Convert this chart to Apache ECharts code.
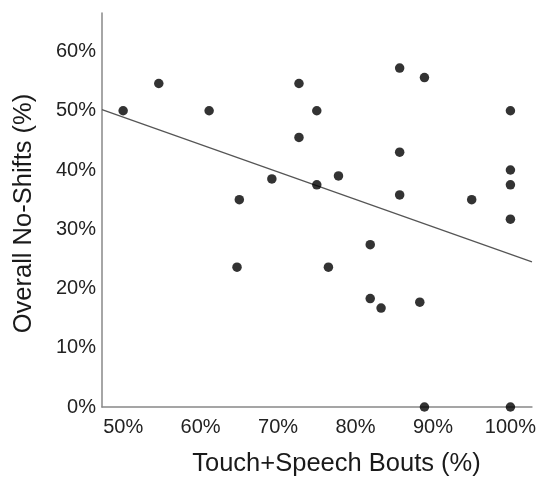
<!DOCTYPE html>
<html>
<head>
<meta charset="utf-8">
<script src="https://cdn.jsdelivr.net/npm/echarts@6/dist/echarts.min.js"></script>
<style>html,body{margin:0;padding:0;background:#fff;}#c{width:539px;height:482px;}</style>
</head>
<body>
<div id="c"></div>
<script>
// Touch+Speech Bouts (%) values
var touchSpeech = [50, 54.6, 61.1, 65.0, 64.7, 69.2, 72.7, 75.0, 72.7, 75.0, 77.8, 85.7, 88.9, 85.7, 85.7, 95.0, 100, 100, 100, 100, 81.9, 76.5, 81.9, 83.3, 88.3, 88.9, 100];
// Overall No-Shifts (%) values
var noShifts = [50, 54.6, 50, 35, 23.6, 38.5, 54.6, 50, 45.5, 37.5, 39, 57.2, 55.6, 43, 35.8, 35, 50, 40, 37.5, 31.7, 27.4, 23.6, 18.3, 16.7, 17.7, 0, 0];
// Fit line endpoints (x, y)
var fitX = [47.27, 102.78];
var fitY = [50.2, 24.5];
var xTicks = [50, 60, 70, 80, 90, 100];
var yTicks = [0, 10, 20, 30, 40, 50, 60];

var pts = touchSpeech.map(function (x, i) { return [x, noShifts[i]]; });
var line = fitX.map(function (x, i) { return [x, fitY[i]]; });

var font = 'Liberation Sans, Arial, sans-serif';
var chart = echarts.init(document.getElementById('c'), null, {renderer: 'canvas'});
chart.setOption({
  animation: false,
  backgroundColor: '#fff',
  grid: {left: 102, top: 13, right: 4, bottom: 70, containLabel: false},
  xAxis: {
    type: 'value', min: 47.27, max: 102.78, interval: 10,
    name: 'Touch+Speech Bouts (%)', nameLocation: 'middle', nameGap: 44,
    nameTextStyle: {fontFamily: font, fontSize: 25.5, color: '#1a1a1a', padding: [0, 0, 0, 39]},
    axisLine: {show: true, lineStyle: {color: '#888', width: 1.5}},
    axisTick: {show: false},
    splitLine: {show: false},
    axisLabel: {
      fontFamily: font, fontSize: 20, color: '#222', margin: 10,
      customValues: xTicks,
      formatter: function (v) { return Math.round(v) + '%'; }
    }
  },
  yAxis: {
    type: 'value', min: 0, max: 66.5, interval: 10,
    name: 'Overall No-Shifts (%)', nameLocation: 'middle', nameGap: 65,
    nameTextStyle: {fontFamily: font, fontSize: 25.5, color: '#1a1a1a', padding: [0, 7, 0, 0]},
    axisLine: {show: true, lineStyle: {color: '#888', width: 1.5}},
    axisTick: {show: false},
    splitLine: {show: false},
    axisLabel: {
      fontFamily: font, fontSize: 20, color: '#222', margin: 6,
      customValues: yTicks,
      formatter: function (v) { return Math.round(v) + '%'; }
    }
  },
  series: [
    {
      type: 'line', data: line, showSymbol: false, symbol: 'none',
      lineStyle: {color: '#555', width: 1.2}, z: 1, silent: true
    },
    {
      type: 'scatter', data: pts, symbol: 'circle', symbolSize: 9.5,
      itemStyle: {color: '#000'}, z: 3
    }
  ]
});
</script>
</body>
</html>
